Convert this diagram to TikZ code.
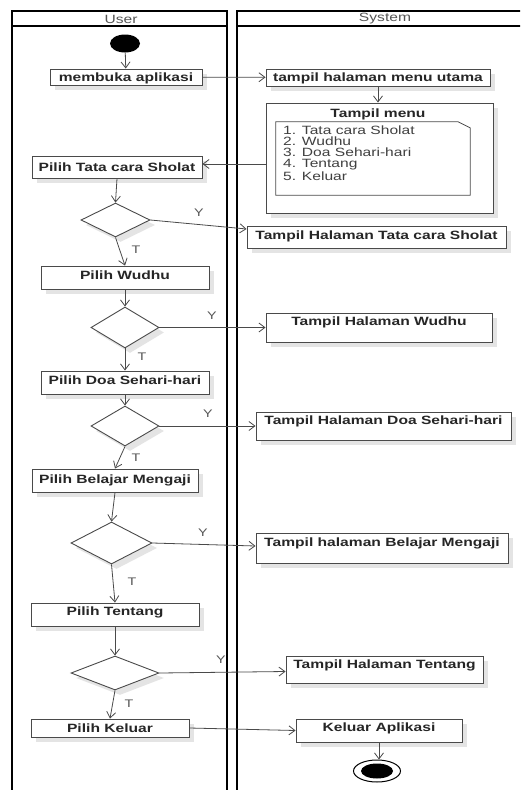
\documentclass[tikz,border=0pt]{standalone}
\usepackage{fontspec}
\setmainfont[FakeStretch=1.3]{Liberation Sans}
\usetikzlibrary{shapes.geometric,arrows.meta,shadows,calc}

\definecolor{edge}{HTML}{4A4A4A}
\definecolor{softgrey}{HTML}{555555}
\definecolor{shade}{HTML}{E4E4E4}

\tikzset{
  lane/.style={draw=black, line width=1.8pt},
  lanetitle/.style={text=softgrey, inner sep=0pt, font=\fontsize{12}{14}\selectfont},
  castshadow/.style={drop shadow={shadow xshift=5pt, shadow yshift=-5pt, fill=shade, opacity=1}},
  box/.style={rectangle, draw=edge, line width=0.9pt, fill=white, inner sep=0pt,
    text height=8.6pt, text depth=0pt, text=black!85,
    font=\fontsize{12}{14}\selectfont\bfseries, castshadow},
  decision/.style={diamond, draw=edge, line width=0.9pt, fill=white, inner sep=0pt, castshadow},
  flow/.style={draw=edge, line width=0.8pt, -{Straight Barb[length=6pt,width=9pt]}},
  guard/.style={text=softgrey, inner sep=0pt, font=\fontsize{11}{13}\selectfont},
  noteline/.style={draw=edge, line width=0.8pt},
}

\begin{document}
\begin{tikzpicture}[x=1pt, y=-1pt]
  \useasboundingbox (0,0) rectangle (520,790);
  \clip (0,0) rectangle (520,790);
  \fill[white] (0,0) rectangle (520,790);

  % swimlanes
  \draw[lane] (12,11) rectangle (227,800);
  \draw[lane] (12,26) -- (227,26);
  \draw[lane] (237,11) rectangle (535,800);
  \draw[lane] (237,26) -- (535,26);
  \node[lanetitle] (userlane) at (121,19) {User};
  \node[lanetitle] (systemlane) at (385,19) {System};

  % start / end
  \node[ellipse, fill=black, minimum width=30pt, minimum height=18pt, inner sep=0pt] (start) at (125,43.5) {};
  \node[ellipse, draw=black, line width=1pt, fill=white, minimum width=47pt, minimum height=22pt, inner sep=0pt] (finish) at (377,771) {};
  \node[ellipse, fill=black, minimum width=32pt, minimum height=15pt, inner sep=0pt] (finishdot) at (377,771) {};

  % user actions
  \node[box, minimum width=152pt, minimum height=16pt] (open) at (126,77) {membuka aplikasi};
  \node[box, minimum width=170pt, minimum height=22pt] (ptata) at (117,167) {Pilih Tata cara Sholat};
  \node[box, minimum width=168pt, minimum height=23pt, text depth=5pt] (pwudhu) at (125,277.5) {Pilih Wudhu};
  \node[box, minimum width=168pt, minimum height=23pt, text depth=4pt] (pdoa) at (125,382.5) {Pilih Doa Sehari-hari};
  \node[box, minimum width=166pt, minimum height=23pt, text depth=2pt] (pngaji) at (115,480.5) {Pilih Belajar Mengaji};
  \node[box, minimum width=168pt, minimum height=23pt, text depth=6pt] (ptentang) at (115,614.5) {Pilih Tentang};
  \node[box, minimum width=158pt, minimum height=18pt] (pkeluar) at (110,728) {Pilih Keluar};

  % decisions
  \node[decision, minimum width=69pt, minimum height=34pt] (d1) at (115.5,220) {};
  \node[decision, minimum width=68pt, minimum height=41pt] (d2) at (125,327.5) {};
  \node[decision, minimum width=68pt, minimum height=40pt] (d3) at (125,426) {};
  \node[decision, minimum width=81pt, minimum height=42pt] (d4) at (111.5,543) {};
  \node[decision, minimum width=88pt, minimum height=34pt] (d5) at (115,673) {};

  % system actions
  \node[box, minimum width=224pt, minimum height=17pt] (mainmenu) at (378,77.5) {tampil halaman menu utama};
  \node[box, minimum width=227pt, minimum height=110pt] (menu) at (379.5,158) {};
  \node[inner sep=0pt, font=\fontsize{12}{14}\selectfont\bfseries, text=black!85] (menutitle) at (378,114) {Tampil menu};
  \node[rectangle, minimum width=194pt, minimum height=73pt, inner sep=0pt] (note) at (373,158.5) {};
  \draw[noteline] (note.north west) -- ($(note.north east)+(-12,0)$) -- ($(note.north east)+(0,6)$)
    -- (note.south east) -- (note.south west) -- cycle;
  \node[anchor=north west, align=left, inner sep=0pt, text=black!75,
    font=\fontsize{12}{11}\selectfont] (notetext) at (283,126)
    {1. Tata cara Sholat\\2. Wudhu\\3. Doa Sehari-hari\\4. Tentang\\5. Keluar};

  \node[box, minimum width=259pt, minimum height=22pt, text depth=4pt] (stata) at (376.5,237) {Tampil Halaman Tata cara Sholat};
  \node[box, minimum width=226pt, minimum height=29pt, text depth=12pt] (swudhu) at (379,327.5) {Tampil Halaman Wudhu};
  \node[box, minimum width=255pt, minimum height=28pt, text depth=12pt] (sdoa) at (383.5,426) {Tampil Halaman Doa Sehari-hari};
  \node[box, minimum width=252pt, minimum height=30pt, text depth=12pt] (sngaji) at (382,548) {Tampil halaman Belajar Mengaji};
  \node[box, minimum width=197pt, minimum height=27pt, text depth=10pt] (stentang) at (384.5,669.5) {Tampil Halaman Tentang};
  \node[box, minimum width=166pt, minimum height=23pt, text depth=6pt] (skeluar) at (379,730.5) {Keluar Aplikasi};

  % control flow
  \draw[flow] (start) -- (open);
  \draw[flow] (open) -- (mainmenu);
  \draw[flow] (mainmenu.south) -- (mainmenu.south |- menu.north);
  \draw[flow] ($(menu.west |- ptata.east)+(0,-3)$) -- ($(ptata.east)+(0,-3)$);
  \draw[flow] (ptata.south) -- (d1.north);
  \draw[flow] (d1.east) -- ($(stata.west)+(0,-8)$);
  \draw[flow] (d1.south) -- (pwudhu.north);
  \draw[flow] (pwudhu.south) -- (d2.north);
  \draw[flow] (d2.east) -- (swudhu.west);
  \draw[flow] (d2.south) -- (pdoa.north);
  \draw[flow] (pdoa.south) -- (d3.north);
  \draw[flow] (d3.east) -- (sdoa.west);
  \draw[flow] (d3.south) -- (pngaji.north);
  \draw[flow] (pngaji.south) -- (d4.north);
  \draw[flow] (d4.east) -- ($(sngaji.west)+(0,-2)$);
  \draw[flow] (d4.south) -- (ptentang.north);
  \draw[flow] (ptentang.south) -- (d5.north);
  \draw[flow] (d5.east) -- ($(stentang.west)+(0,2)$);
  \draw[flow] (d5.south) -- (pkeluar.north);
  \draw[flow] (pkeluar.east) -- (skeluar.west);
  \draw[flow] (skeluar.south) -- (skeluar.south |- finish.north);

  % guards
  \node[guard] (y1) at (199,213) {Y};
  \node[guard] (t1) at (136,250) {T};
  \node[guard] (y2) at (212,316) {Y};
  \node[guard] (t2) at (142,357) {T};
  \node[guard] (y3) at (208,414) {Y};
  \node[guard] (t3) at (136,458) {T};
  \node[guard] (y4) at (203,533) {Y};
  \node[guard] (t4) at (132,582) {T};
  \node[guard] (y5) at (221,660) {Y};
  \node[guard] (t5) at (129,704) {T};
\end{tikzpicture}
\end{document}
